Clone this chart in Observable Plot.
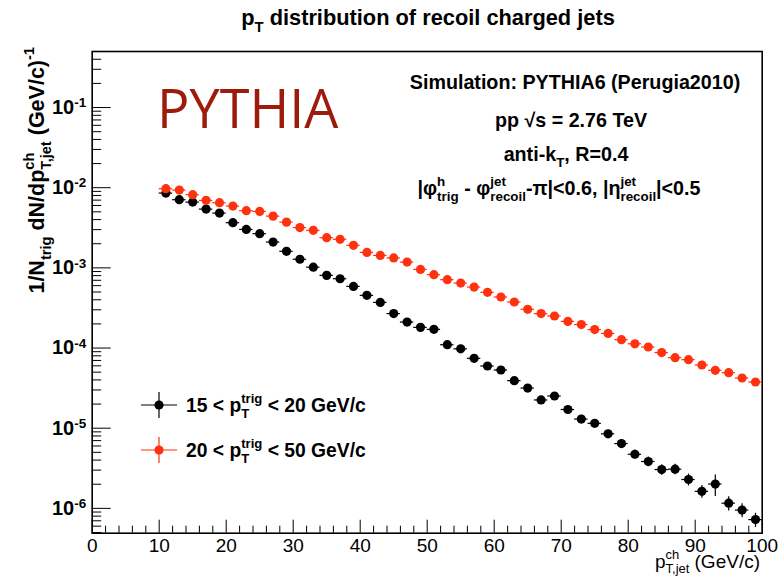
<!DOCTYPE html>
<html><head><meta charset="utf-8">
<script src="https://cdn.jsdelivr.net/npm/d3@7"></script>
<script src="https://cdn.jsdelivr.net/npm/@observablehq/plot@0.6"></script>
<style>
html,body{margin:0;padding:0;background:#fff;}
#chart{width:780px;height:578px;}
</style></head><body><div id="chart"></div>
<script>
// ---- data ----
const ptBins = [11,13,15,17,19,21,23,25,27,29,31,33,35,37,39,41,43,45,47,49,51,53,55,57,59,61,63,65,67,69,71,73,75,77,79,81,83,85,87,89,91,93,95,97,99];
const binHalfWidth = 1;
const seriesLow = [8.57e-3,7.08e-3,6.61e-3,5.41e-3,4.82e-3,3.66e-3,3.02e-3,2.67e-3,2.10e-3,1.61e-3,
  1.28e-3,1.02e-3,8.06e-4,7.32e-4,5.87e-4,4.54e-4,3.71e-4,2.69e-4,2.11e-4,1.81e-4,
  1.71e-4,1.10e-4,9.77e-5,7.44e-5,5.97e-5,5.32e-5,3.92e-5,3.17e-5,2.25e-5,2.52e-5,
  1.71e-5,1.30e-5,1.15e-5,8.51e-6,6.43e-6,4.73e-6,3.84e-6,3.05e-6,3.08e-6,2.29e-6,
  1.63e-6,2.01e-6,1.16e-6,9.52e-7,7.24e-7];
const seriesHigh = [9.72e-3,9.33e-3,8.18e-3,6.95e-3,6.50e-3,5.90e-3,5.17e-3,5.06e-3,4.42e-3,3.72e-3,
  3.18e-3,2.94e-3,2.38e-3,2.27e-3,1.91e-3,1.56e-3,1.43e-3,1.33e-3,1.18e-3,9.57e-4,
  8.22e-4,7.12e-4,6.46e-4,5.76e-4,4.95e-4,4.33e-4,3.75e-4,3.04e-4,2.69e-4,2.51e-4,
  2.15e-4,1.96e-4,1.70e-4,1.52e-4,1.27e-4,1.13e-4,1.03e-4,8.77e-5,7.59e-5,7.16e-5,
  6.14e-5,5.27e-5,4.93e-5,4.23e-5,3.77e-5];
// relative statistical errors
const relErrLow = [0.02,0.02,0.02,0.02,0.02,0.02,0.02,0.02,0.02,0.02,
  0.02,0.02,0.02,0.03,0.03,0.03,0.03,0.04,0.04,0.04,
  0.04,0.05,0.05,0.06,0.06,0.06,0.07,0.07,0.08,0.08,
  0.09,0.10,0.10,0.11,0.12,0.13,0.14,0.15,0.15,0.17,
  0.18,0.30,0.20,0.20,0.20];
const relErrHigh = [0.01,0.01,0.01,0.01,0.01,0.01,0.01,0.01,0.01,0.01,
  0.01,0.01,0.01,0.01,0.01,0.01,0.01,0.01,0.01,0.01,
  0.01,0.01,0.01,0.01,0.02,0.02,0.02,0.02,0.02,0.02,
  0.02,0.02,0.02,0.02,0.02,0.02,0.03,0.03,0.03,0.03,
  0.03,0.03,0.03,0.03,0.03];
const yTickValues = [1e-6,1e-5,1e-4,1e-3,1e-2,1e-1];
const xTickValues = [0,10,20,30,40,50,60,70,80,90,100];
const seriesLabels = [["15 < p"," < 20 GeV/c"],["20 < p"," < 50 GeV/c"]];
const colors = ["#000000","#ff3210"];

// ---- layout ----
const W = 780, H = 578;
const mL = 91.7, mR = 18.3, mT = 51, mB = 45.3;
const plotW = W - mL - mR, plotH = H - mT - mB;
const FONT = "'Liberation Sans', Arial, Helvetica, sans-serif";

const lowData = ptBins.map((x,i)=>({x, v: seriesLow[i], e: relErrLow[i]}));
const highData = ptBins.map((x,i)=>({x, v: seriesHigh[i], e: relErrHigh[i]}));

const yMinor = [];
for (let k = -7; k <= -1; k++) for (let m = 2; m <= 9; m++) {
  const v = m * Math.pow(10, k);
  if (v > 4.9e-7 && v < 0.5) yMinor.push(v);
}
const xMinor = d3.range(0, 101, 2).filter(v => v % 10 !== 0);

function seriesMarks(data, color) {
  return [
    Plot.ruleY(data, {y: "v", x1: d => d.x - binHalfWidth, x2: d => d.x + binHalfWidth, stroke: color, strokeWidth: 1.2}),
    Plot.ruleX(data, {x: "x", y1: d => d.v * (1 - d.e), y2: d => d.v * (1 + d.e), stroke: color, strokeWidth: 1.2}),
    Plot.dot(data, {x: "x", y: "v", r: 4.6, fill: color, stroke: "none"})
  ];
}

const plot = Plot.plot({
  width: W, height: H,
  marginLeft: mL, marginRight: mR, marginTop: mT, marginBottom: mB,
  x: {domain: [0, 100]},
  y: {type: "log", domain: [4.9e-7, 0.5]},
  style: {fontFamily: FONT, background: "#fff", overflow: "visible"},
  marks: [
    Plot.frame({stroke: "#000", strokeWidth: 1.6}),
    Plot.tickY(yMinor, {insetRight: plotW - 9.5, stroke: "#000"}),
    Plot.tickY(yTickValues, {insetRight: plotW - 19, stroke: "#000"}),
    Plot.tickX(xMinor, {insetTop: plotH - 7, stroke: "#000"}),
    Plot.tickX(xTickValues, {insetTop: plotH - 13, stroke: "#000"}),
    Plot.axisY(yTickValues, {tickSize: 0, tickPadding: 6, label: null, tickFormat: d => "10^" + Math.round(Math.log10(d)), fontSize: 20, fontWeight: "bold"}),
    Plot.axisX(xTickValues, {tickSize: 0, tickPadding: 5, label: null, tickFormat: d => String(d), fontSize: 19}),
    ...seriesMarks(lowData, colors[0]),
    ...seriesMarks(highData, colors[1])
  ]
});
const svg = document.getElementById("chart").appendChild(plot);
const s = d3.select(svg);
s.selectAll('g[aria-label="y-axis tick label"] text').each(function() {
  const t = this.textContent; const parts = t.split("^");
  const sel = d3.select(this);
  sel.text(parts[0]).attr("font-weight", "bold").attr("font-size", 20).attr("fill", "#000");
  sel.append("tspan").attr("dy", "-0.5em").attr("font-size", 13.5).text(parts[1]);
});
s.selectAll('g[aria-label="x-axis tick label"] text').attr("font-size", 19).attr("fill", "#000");

// ---- rich text helper ----
function rich(parent, o, parts) {
  const size = o.size;
  const t = parent.append("text").attr("x", o.x).attr("y", o.y)
    .attr("font-size", size).attr("font-weight", o.weight || "bold")
    .attr("text-anchor", o.anchor || "start").attr("fill", o.fill || "#000")
    .attr("font-family", o.family || FONT);
  if (o.transform) t.attr("transform", o.transform);
  let cur = 0, pend = 0;
  const sm = size * 0.68, up = -size * 0.45, dn = size * (o.dn || 0.32);
  const span = (txt, off, fs) => {
    const sp = t.append("tspan").attr("dy", off - cur).attr("font-size", fs).text(txt);
    if (pend) { sp.attr("dx", pend); pend = 0; }
    cur = off; return sp;
  };
  for (const p of parts) {
    if (typeof p === "string") span(p, 0, size);
    else if (p.sup !== undefined && p.sub !== undefined) {
      const a = span(p.sup, up, sm); const la = a.node().getComputedTextLength();
      pend = -la;
      const b = span(p.sub, dn, sm); const lb = b.node().getComputedTextLength();
      pend = Math.max(0, la - lb);
    } else if (p.sup !== undefined) span(p.sup, up, sm);
    else if (p.sub !== undefined) span(p.sub, dn, sm);
  }
  return t;
}

const g = s.append("g").attr("text-anchor", "start");
// title
rich(g, {x: 428, y: 25, size: 21.8, anchor: "middle"}, ["p", {sub: "T"}, " distribution of recoil charged jets"]);
// y title
rich(g, {x: 0, y: 0, size: 21.5, anchor: "end", transform: "translate(44,47) rotate(-90)"},
  ["1/N", {sub: "trig"}, " dN/dp", {sup: "ch", sub: "T,jet"}, " (GeV/c)", {sup: "-1"}]);
// x title
rich(g, {x: 760, y: 568, size: 19, weight: "normal", anchor: "end", dn: 0.27},
  ["p", {sup: "ch", sub: "T,jet"}, " (GeV/c)"]);
// PYTHIA
g.append("text").attr("x", 157).attr("y", 128).attr("text-anchor", "start")
  .attr("font-family", "'Open Sans', 'Liberation Sans', sans-serif")
  .attr("font-size", 54).attr("fill", "#9c1b0b").text("PYTHIA");
// info text
rich(g, {x: 575, y: 89, size: 19.7, anchor: "middle"}, ["Simulation: PYTHIA6 (Perugia2010)"]);
rich(g, {x: 571, y: 127, size: 19.7, anchor: "middle"}, ["pp \u221As = 2.76 TeV"]);
rich(g, {x: 566, y: 161, size: 19.7, anchor: "middle"}, ["anti-k", {sub: "T"}, ", R=0.4"]);
rich(g, {x: 559, y: 195, size: 19.7, anchor: "middle"},
  ["|\u03C6", {sup: "h", sub: "trig"}, " - \u03C6", {sup: "jet", sub: "recoil"}, "-\u03C0|<0.6, |\u03B7", {sup: "jet", sub: "recoil"}, "|<0.5"]);
// legend
const legY = [405, 450];
legY.forEach((y, i) => {
  const c = colors[i];
  g.append("line").attr("x1", 141).attr("x2", 177).attr("y1", y).attr("y2", y).attr("stroke", c).attr("stroke-width", 1.2);
  g.append("line").attr("x1", 159).attr("x2", 159).attr("y1", y - 13).attr("y2", y + 13).attr("stroke", c).attr("stroke-width", 1.2);
  g.append("circle").attr("cx", 159).attr("cy", y).attr("r", 4.6).attr("fill", c);
  rich(g, {x: 186, y: y + 7, size: 19.3, anchor: "start"}, [seriesLabels[i][0], {sup: "trig", sub: "T"}, seriesLabels[i][1]]);
});
</script></body></html>
